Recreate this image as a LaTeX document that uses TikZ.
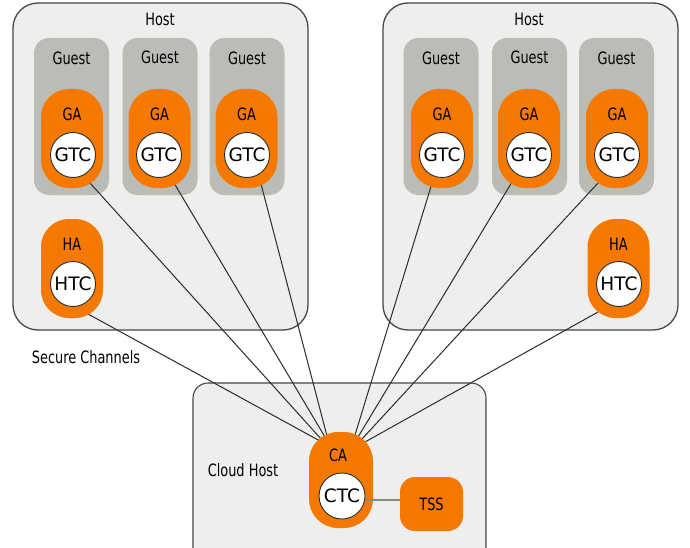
\documentclass[tikz,border=0pt]{standalone}
\usepackage{fontspec}
\setmainfont{DejaVu Sans}
\newfontfamily\condf{DejaVu Sans}[FakeStretch=0.76]
\definecolor{hostfill}{RGB}{238,238,236}
\definecolor{hostdraw}{RGB}{70,72,68}
\definecolor{guestfill}{RGB}{186,189,182}
\definecolor{orangef}{RGB}{245,121,0}
\definecolor{linec}{RGB}{40,44,46}
\definecolor{tssline}{RGB}{136,138,133}
\pgfdeclarelayer{bg}
\pgfdeclarelayer{mid}
\pgfsetlayers{bg,mid,main}
\begin{document}
\begin{tikzpicture}[x=1pt,y=-1pt,
 hostbox/.style={draw=hostdraw,fill=hostfill,line width=1.3pt,rounded corners=25pt,inner sep=0pt,minimum width=295pt,minimum height=327pt},
 cloudbox/.style={draw=hostdraw,fill=hostfill,line width=1.1pt,rounded corners=15pt,inner sep=0pt,minimum width=293pt,minimum height=192pt},
 guestbox/.style={fill=guestfill,rounded corners=15pt,inner sep=0pt,minimum width=75pt,minimum height=157pt},
 agent/.style={fill=orangef,rounded corners=28pt,minimum width=62pt,minimum height=99pt,inner sep=0pt},
 tcirc/.style={circle,fill=white,draw=linec,line width=0.9pt,minimum size=45pt,inner sep=0pt,font=\fontsize{18.5}{21}\selectfont},
 lbl/.style={font=\condf\fontsize{17}{20}\selectfont,inner sep=0pt},
 chan/.style={draw=linec,line width=1pt},
 tssl/.style={draw=tssline,line width=1.6pt},
]
\useasboundingbox (0,0) rectangle (690,548);
\clip (0,0) rectangle (690,548);

\begin{pgfonlayer}{bg}
\fill[white] (0,0) rectangle (690,548);
\node[hostbox] (hostL) at (160.5,166.5) {};
\node[hostbox] (hostR) at (530.5,166.5) {};
\node[cloudbox] (cloud) at (339.5,479) {};
\node[guestbox] (gL1) at (71.5,116.5) {};
\node[guestbox] (gL2) at (160,116.5) {};
\node[guestbox] (gL3) at (247,116.5) {};
\node[guestbox] (gR1) at (441,116.5) {};
\node[guestbox] (gR2) at (529.5,116.5) {};
\node[guestbox] (gR3) at (616.5,116.5) {};
\end{pgfonlayer}

% labels of containers
\node[lbl] (hostLl) at (160,19) {Host};
\node[lbl] (hostRl) at (529,19) {Host};
\node[lbl] (gL1l) at (71.5,58) {Guest};
\node[lbl] (gL2l) at (160,57) {Guest};
\node[lbl] (gL3l) at (247,58) {Guest};
\node[lbl] (gR1l) at (441,58) {Guest};
\node[lbl] (gR2l) at (529.5,57) {Guest};
\node[lbl] (gR3l) at (616.5,58) {Guest};
\node[lbl] (secl) at (86,357) {Secure Channels};
\node[lbl] (cloudl) at (243,470) {Cloud Host};

% agents
\node[agent] (gaL1) at (72,138.5) {};
\node[agent] (gaL2) at (159.5,138.5) {};
\node[agent] (gaL3) at (246.5,138.5) {};
\node[agent] (gaR1) at (442,138.5) {};
\node[agent] (gaR2) at (529,138.5) {};
\node[agent] (gaR3) at (617,138.5) {};
\node[agent] (haL) at (72,268.5) {};
\node[agent] (haR) at (618.5,268.5) {};
\node[agent,minimum width=64pt,minimum height=96pt,rounded corners=29pt] (ca) at (341,480) {};
\node[fill=orangef,rounded corners=15pt,minimum width=63pt,minimum height=54pt,inner sep=0pt,font=\condf\fontsize{17}{20}\selectfont] (tss) at (431.5,504) {TSS};

\node[lbl] (gaL1l) at (72,114) {GA};
\node[lbl] (gaL2l) at (159.5,114) {GA};
\node[lbl] (gaL3l) at (246.5,114) {GA};
\node[lbl] (gaR1l) at (442,114) {GA};
\node[lbl] (gaR2l) at (529,114) {GA};
\node[lbl] (gaR3l) at (617,114) {GA};
\node[lbl] (haLl) at (72,244.5) {HA};
\node[lbl] (haRl) at (618.5,244.5) {HA};
\node[lbl] (cal) at (338,455.5) {CA};

\node[tcirc] (gtcL1) at (73,155) {GTC};
\node[tcirc] (gtcL2) at (159,155) {GTC};
\node[tcirc] (gtcL3) at (247,155) {GTC};
\node[tcirc] (gtcR1) at (442,155) {GTC};
\node[tcirc] (gtcR2) at (529,155) {GTC};
\node[tcirc] (gtcR3) at (617,155) {GTC};
\node[tcirc] (htcL) at (73,284) {HTC};
\node[tcirc] (htcR) at (619,284) {HTC};
\node[tcirc,minimum size=46pt] (ctc) at (342,496) {CTC};

\begin{pgfonlayer}{mid}
\draw[chan] ([shift={(18,44.5)}]gaL1.center) -- ([shift={(-19,-40)}]ca.center);
\draw[chan] ([shift={(14.5,44.5)}]gaL2.center) -- ([shift={(-16,-43)}]ca.center);
\draw[chan] ([shift={(14.5,45.5)}]gaL3.center) -- ([shift={(-14,-44)}]ca.center);
\draw[chan] ([shift={(16,45.5)}]haL.center) -- ([shift={(-21,-39)}]ca.center);
\draw[chan] ([shift={(-11,48)}]gaR1.center) -- ([shift={(14,-45)}]ca.center);
\draw[chan] ([shift={(-17,43.5)}]gaR2.center) -- ([shift={(17,-43)}]ca.center);
\draw[chan] ([shift={(-19,44.5)}]gaR3.center) -- ([shift={(21,-41)}]ca.center);
\draw[chan] ([shift={(-20.5,43.5)}]haR.center) -- ([shift={(24,-38)}]ca.center);
\end{pgfonlayer}
\draw[tssl] ([yshift=-4pt]ctc.east) -- ([yshift=4pt]tss.west);
\end{tikzpicture}
\end{document}
